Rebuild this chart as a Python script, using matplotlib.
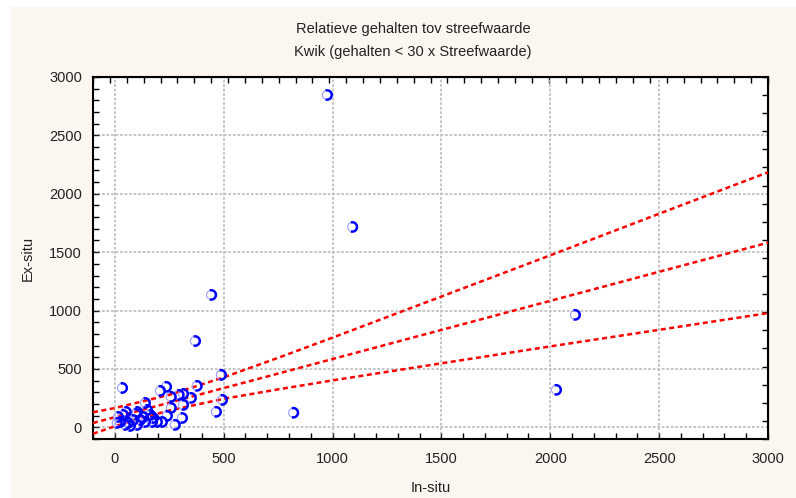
import numpy as np
import matplotlib
matplotlib.use("Agg")
import matplotlib.pyplot as plt
from matplotlib.patches import Rectangle
from matplotlib.path import Path
from matplotlib.ticker import MultipleLocator

plt.rcParams['font.family'] = ['Liberation Sans', 'DejaVu Sans']

# scatter points (in-situ, ex-situ)
in_situ = [975, 1091, 443, 369, 2114, 2027, 820, 34,
           488, 493, 465, 208, 236, 377, 258, 294, 314, 350, 258, 314,
           139, 148, 309, 276, 240, 194, 171, 102, 38, 51, 10, 24,
           61, 84, 116, 139, 102, 70, 47, 15, 176, 130, 162, 217, 97]
ex_situ = [2846, 1716, 1134, 739, 963, 321, 125, 337,
           449, 235, 133, 312, 347, 355, 261, 278, 286, 252, 166, 192,
           209, 149, 80, 21, 98, 46, 46, 132, 106, 132, 38, 46,
           38, 63, 63, 46, 21, 12, 21, 89, 80, 89, 106, 46, 115]

# regression line and bands
line_x = [-100, 0, 125, 250, 500, 750, 1000, 1500, 2000, 2500, 3000]
fit_mid = [37, 87, 149, 211, 336, 460, 585, 834, 1083, 1332, 1581]
fit_upper = [129, 165, 221, 278, 428, 595, 768, 1120, 1473, 1829, 2184]
fit_lower = [-55, 9, 80, 144, 244, 325, 402, 548, 693, 835, 978]

title_lines = ["Relatieve gehalten tov streefwaarde",
               "Kwik (gehalten < 30 x Streefwaarde)"]

fig = plt.figure(figsize=(7.96, 4.98), dpi=100)
fig.patch.set_facecolor('white')
fig.add_artist(Rectangle((10 / 796, 0), 786 / 796, 491 / 498,
                         transform=fig.transFigure, facecolor='#fcf6f0',
                         edgecolor='none', zorder=-10))

ax = fig.add_axes([93 / 796, 1 - 439 / 498, 675 / 796, 362 / 498])
ax.set_facecolor('white')

ax.set_xlim(-100, 3000)
ax.set_ylim(-100, 3000)
ax.xaxis.set_major_locator(MultipleLocator(500))
ax.xaxis.set_minor_locator(MultipleLocator(100))
ax.yaxis.set_major_locator(MultipleLocator(500))
ax.yaxis.set_minor_locator(MultipleLocator(100))
ax.tick_params(which='both', direction='in', length=4, width=1, color='black')
ax.tick_params(axis='both', labelsize=10.5, colors='#222222')
ax.tick_params(axis='x', pad=9)
ax.tick_params(axis='y', pad=8)
for s in ax.spines.values():
    s.set_linewidth(1.5)

# top / right axes have their own ticks
top = ax.secondary_xaxis('top')
top.set_xticks(np.arange(-100, 3001, 77.5))
top.tick_params(direction='in', length=4, width=1, labeltop=False)
top.set_xticklabels([])
right = ax.secondary_yaxis('right')
right.set_yticks(np.arange(-100, 3001, 155))
right.tick_params(direction='in', length=4, width=1, labelright=False)
right.set_yticklabels([])

ax.grid(True, which='major', color='#c0c0c0', linestyle=(0, (1.5, 1)), linewidth=1.3)
ax.set_axisbelow(True)

for band in (fit_upper, fit_mid, fit_lower):
    ax.plot(line_x, band, color='red', linestyle=(0, (2, 1.4)), linewidth=1.8, zorder=3)

theta = np.linspace(-np.pi * 0.6, np.pi * 0.6, 30)
arc = Path(np.column_stack([np.cos(theta), np.sin(theta)]))
ax.scatter(in_situ, ex_situ, s=45, marker='o', facecolors='none',
           edgecolors='#9a9aff', linewidths=0.8, zorder=4)
ax.scatter(in_situ, ex_situ, s=45, marker=arc, facecolors='none',
           edgecolors='#0000ff', linewidths=1.8, zorder=5)

ax.set_xlabel("In-situ", fontsize=10.5, color='#222222', labelpad=11)
ax.set_ylabel("Ex-situ", fontsize=10.5, color='#222222', labelpad=10)

fig.text(413 / 796, 1 - 29 / 498, title_lines[0], ha='center', va='center',
         fontsize=10.5, color='#222222')
fig.text(413 / 796, 1 - 52 / 498, title_lines[1], ha='center', va='center',
         fontsize=10.5, color='#222222')

fig.savefig("out.png", dpi=100, facecolor=fig.get_facecolor())
